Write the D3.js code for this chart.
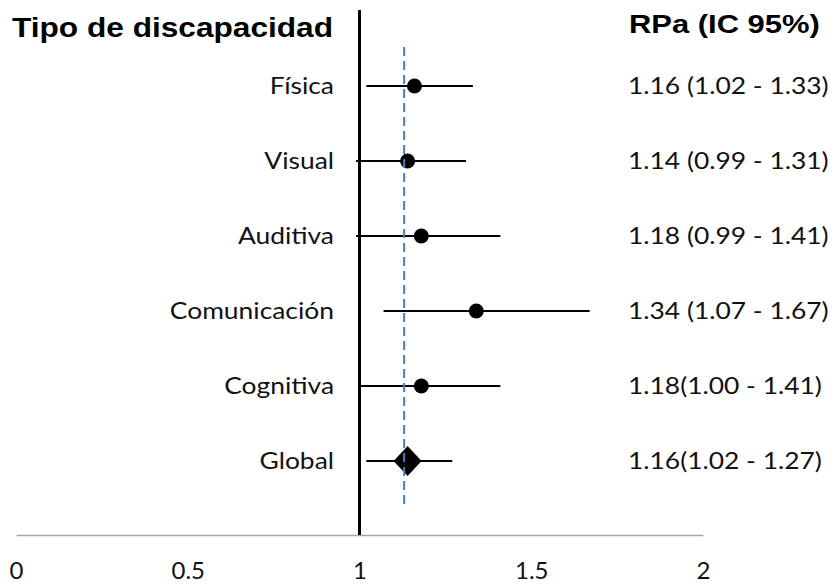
<!DOCTYPE html>
<html><head><meta charset="utf-8">
<script src="https://cdn.jsdelivr.net/npm/d3@7"></script>
<style>body{margin:0;background:#fff}</style>
</head><body>
<svg id="c" width="835" height="585"></svg>
<script>
const categories = ["Física","Visual","Auditiva","Comunicación","Cognitiva","Global"];
const estimates = [1.16,1.14,1.18,1.34,1.18,1.14];
const lower = [1.02,0.99,0.99,1.07,1.00,1.02];
const upper = [1.33,1.31,1.41,1.67,1.41,1.27];
const ciLabels = ["1.16 (1.02 - 1.33)","1.14 (0.99 - 1.31)","1.18 (0.99 - 1.41)","1.34 (1.07 - 1.67)","1.18(1.00 - 1.41)","1.16(1.02 - 1.27)"];
const refLine = 1.13;
const xTicks = [0,0.5,1,1.5,2];

const svg = d3.select("#c");
const x = d3.scaleLinear().domain([0,2]).range([16,703]);
const y = d3.scalePoint().domain(categories).range([86,461]);
const font = "Lato, 'Open Sans', sans-serif";
const bold = "'Liberation Sans', Arial, sans-serif";
const txt = "#111";

// x axis
const ax = svg.append("g").attr("transform","translate(0,535)")
  .call(d3.axisBottom(x).tickValues(xTicks).tickSize(0).tickPadding(27).tickFormat(d3.format("")));
ax.select(".domain").attr("stroke","#a6a6a6").attr("stroke-width",1.5);
ax.selectAll("text").attr("font-family",font).attr("font-size",24).attr("fill",txt);

// null line
svg.append("line").attr("x1",x(1)).attr("x2",x(1)).attr("y1",10).attr("y2",535)
  .attr("stroke","#000").attr("stroke-width",3);

const rows = categories.map((c,i)=>({c,est:estimates[i],lo:lower[i],hi:upper[i],lab:ciLabels[i]}));

svg.selectAll(".ci").data(rows).join("line")
  .attr("x1",d=>x(d.lo)).attr("x2",d=>x(d.hi))
  .attr("y1",d=>y(d.c)).attr("y2",d=>y(d.c))
  .attr("stroke","#000").attr("stroke-width",2);

svg.selectAll(".pt").data(rows.filter(d=>d.c!=="Global")).join("circle")
  .attr("cx",d=>x(d.est)).attr("cy",d=>y(d.c)).attr("r",7.5).attr("fill","#000");

rows.filter(d=>d.c==="Global").forEach(d=>{
  const cx=x(d.est), cy=y(d.c);
  svg.append("path").attr("d",`M${cx-14},${cy} L${cx},${cy-15} L${cx+14},${cy} L${cx},${cy+15} Z`).attr("fill","#000");
});

// dashed reference (on top)
svg.append("line").attr("x1",x(refLine)).attr("x2",x(refLine)).attr("y1",47).attr("y2",507)
  .attr("stroke","#4a7ebb").attr("stroke-width",2).attr("stroke-dasharray","9,5");

svg.selectAll(".cat").data(rows).join("text")
  .attr("transform",d=>`translate(334,${y(d.c)}) scale(1.1,1)`).attr("dy","0.35em").attr("text-anchor","end")
  .attr("font-family",font).attr("font-size",24).attr("fill",txt).text(d=>d.c);

svg.selectAll(".lab").data(rows).join("text")
  .attr("transform",d=>`translate(628,${y(d.c)}) scale(1.1,1)`).attr("dy","0.35em")
  .attr("font-family",font).attr("font-size",24).attr("fill",txt).text(d=>d.lab);

svg.append("text").attr("transform","translate(12,37) scale(1.13,1)").attr("font-family",bold)
  .attr("font-weight","bold").attr("font-size",28).attr("fill","#000").text("Tipo de discapacidad");
svg.append("text").attr("transform","translate(629,33) scale(1.19,1)").attr("font-family",bold)
  .attr("font-weight","bold").attr("font-size",26).attr("fill","#000").text("RPa (IC 95%)");
</script>
</body></html>
